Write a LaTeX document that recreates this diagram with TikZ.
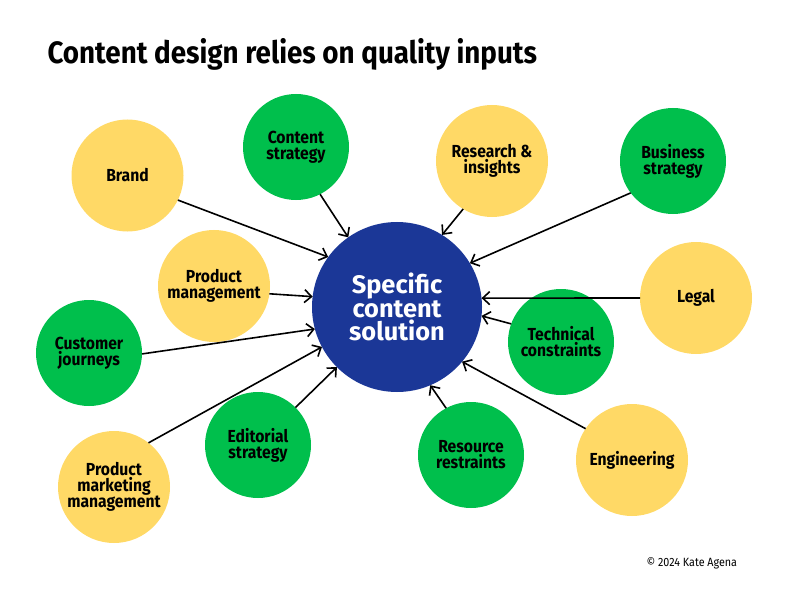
\documentclass[tikz,border=0pt]{standalone}
\usepackage{fontspec}
\usepackage{xcolor}
\usetikzlibrary{arrows.meta}

\newfontfamily\barfont[FakeStretch=0.9]{Fira Sans}
\newfontfamily\solfont{Fira Sans}
\definecolor{jaune}{HTML}{FFD966}
\definecolor{vert}{HTML}{00BF4C}
\definecolor{bleu}{HTML}{1B3797}

\begin{document}
\begin{tikzpicture}[x=1bp, y=-1bp,
    bulle/.style={circle, inner sep=0pt, outer sep=0pt, align=center, text=black,
      font=\barfont\bfseries\fontsize{17.5}{16}\selectfont},
    jaunebulle/.style={bulle, fill=jaune, minimum size=112bp},
    vertbulle/.style={bulle, fill=vert, minimum size=106bp},
    fleche/.style={line width=1.6bp, -{Straight Barb[length=7bp,width=13bp,line width=1.6bp]}}]
  \useasboundingbox (0,0) rectangle (792,612);

  % Titre
  \node[anchor=base west, font=\barfont\bfseries\fontsize{31}{33}\selectfont] (titre) at (44,64)
    {Content design relies on quality inputs};

  % Bulle centrale
  \node[circle, fill=bleu, minimum size=170bp, inner sep=0pt, outer sep=0pt, align=center, text=white,
    font=\solfont\bfseries\fontsize{25.5}{24}\selectfont] (sol) at (397,307)
    {Specific\\content\\solution};

  % Bulles autour
  \node[jaunebulle] (brand) at (127.5,175.5) {Brand};
  \node[vertbulle] (cstrat) at (296,147) {Content\\strategy};
  \node[jaunebulle] (research) at (492,161) {Research \&\\insights};
  \node[vertbulle] (business) at (673,161) {Business\\strategy};
  \node[jaunebulle] (prodman) at (214,286) {Product\\management};
  \node[jaunebulle] (legal) at (696,298) {Legal};
  \node[vertbulle] (customer) at (89,353) {Customer\\journeys};
  \node[vertbulle] (technical) at (561,342) {Technical\\constraints};
  \node[vertbulle] (editorial) at (258,445) {Editorial\\strategy};
  \node[vertbulle] (resource) at (471,455) {Resource\\restraints};
  \node[jaunebulle] (engineering) at (632,460) {Engineering};
  \node[jaunebulle] (pmm) at (114,487) {Product\\marketing\\management};

  % Fleches vers la solution
  \draw[fleche] (brand.-26) -- (sol.144);
  \draw[fleche] (cstrat.-63) -- (sol.125);
  \draw[fleche] (research.239) -- (sol.58);
  \draw[fleche] (business.217) -- (sol.31);
  \draw[fleche] (prodman.-8) -- (sol.173);
  \draw[fleche] (customer.-1) -- (sol.195);
  \draw[fleche] (pmm.52) -- (sol.208);
  \draw[fleche] (editorial.45) -- (sol.225.5);
  \draw[fleche] (resource.118) -- (sol.293.6);
  \draw[fleche] (engineering.146) -- (sol.320);
  \draw[fleche] (technical.160.5) -- (sol.-6);
  \draw[fleche] (legal.180) -- (sol.6);

  \node[anchor=base west, font=\barfont\fontsize{12}{14}\selectfont] (copy) at (643,566)
    {\textcopyright{} 2024 Kate Agena};
\end{tikzpicture}
\end{document}
